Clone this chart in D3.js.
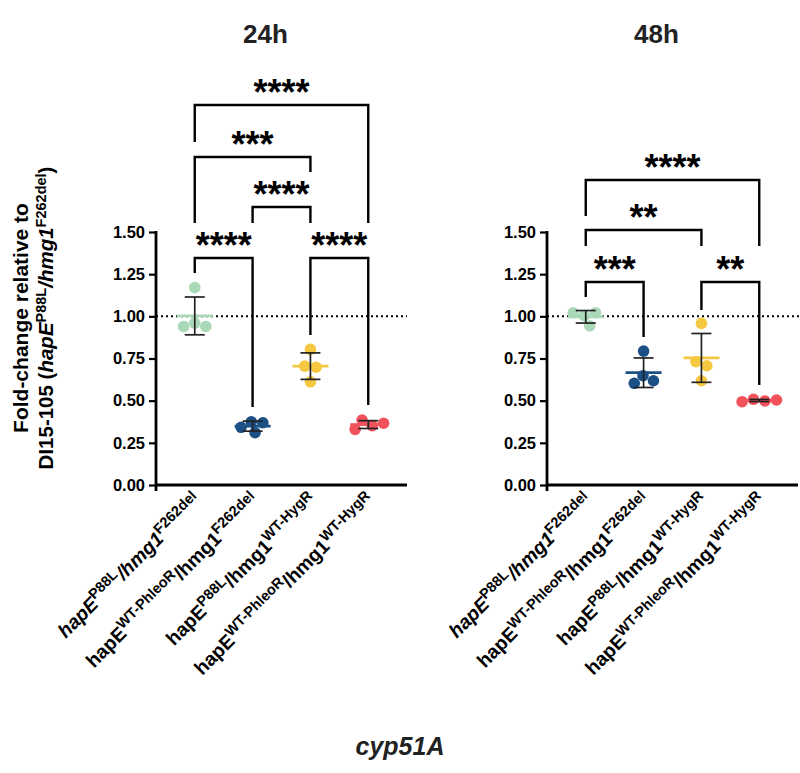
<!DOCTYPE html>
<html><head><meta charset="utf-8">
<script src="https://cdn.jsdelivr.net/npm/d3@7"></script>
<style>
body{margin:0;background:#fff;}
text{font-family:"Liberation Sans",Arial,Helvetica,sans-serif;}
</style>
</head><body>
<svg id="chart" width="800" height="773"></svg>
<script>
// ---------- data ----------
const panelTitles = ["24h", "48h"];
const groupKeys = ["g1", "g2", "g3", "g4"];
const groupColors = ["#a9d9b7", "#1b4f86", "#f6c842", "#f2525b"];
const values24h = [
  [1.17, 0.96, 0.94, 0.94],
  [0.375, 0.369, 0.342, 0.31],
  [0.804, 0.705, 0.698, 0.612],
  [0.33, 0.385, 0.352, 0.366]
];
const values48h = [
  [1.021, 1.021, 1.004, 0.943],
  [0.794, 0.648, 0.603, 0.618],
  [0.958, 0.731, 0.707, 0.618],
  [0.494, 0.508, 0.498, 0.504]
];
const yTickValues = [0, 0.25, 0.5, 0.75, 1.0, 1.25, 1.5];
const yTickLabels = ["0.00", "0.25", "0.50", "0.75", "1.00", "1.25", "1.50"];
const referenceLine = 1.0;
// comparisons: [groupA, groupB, label, bracketValue, legEndA, legEndB] (values in y units)
const comparisons24h = [
  [0, 1, "****", 1.346, 1.257, 0.462],
  [2, 3, "****", 1.346, 0.889, 0.474],
  [1, 2, "****", 1.648, 1.553, 1.553],
  [0, 2, "***", 1.945, 1.553, 1.856],
  [0, 3, "****", 2.253, 2.034, 1.553]
];
const comparisons48h = [
  [0, 1, "***", 1.204, 1.115, 0.877],
  [2, 3, "**", 1.204, 1.038, 0.593],
  [0, 2, "**", 1.512, 1.417, 1.417],
  [0, 3, "****", 1.808, 1.595, 1.417]
];
// x labels: segments [text, italic, superscript]
const xLabels24h = [
  [["hapE",1,0],["P88L",0,1],["/hmg1",1,0],["F262del",0,1]],
  [["hapE",0,0],["WT-PhleoR",0,1],["/hmg1",0,0],["F262del",0,1]],
  [["hapE",0,0],["P88L",0,1],["/hmg1",0,0],["WT-HygR",0,1]],
  [["hapE",0,0],["WT-PhleoR",0,1],["/hmg1",0,0],["WT-HygR",0,1]]
];
const xLabels48h = xLabels24h;
const yTitleLine1 = "Fold-change relative to";
const yTitleLine2 = [["DI15-105 (",0,0],["hapE",1,0],["P88L",0,1],["/hmg1",1,0],["F262del",0,1],[")",0,0]];
const geneTitle = "cyp51A";

// ---------- layout ----------
const svg = d3.select("#chart");
const plotTop = 232, plotBottom = 485, plotWidth = 251;
const panels = [
  {left: 156, title: panelTitles[0], values: values24h, comps: comparisons24h, labels: xLabels24h, lineEnd: 407},
  {left: 547, title: panelTitles[1], values: values48h, comps: comparisons48h, labels: xLabels48h, lineEnd: 800}
];
const y = d3.scaleLinear().domain([0, 1.5]).range([plotBottom, plotTop]);
const R = 5.8;

function addRich(textSel, segs, mainSize, supSize, supShift) {
  let raised = false;
  segs.forEach(([t, it, sup]) => {
    const ts = textSel.append("tspan").text(t)
      .attr("font-size", sup ? supSize : mainSize)
      .attr("font-style", it ? "italic" : "normal");
    if (sup && !raised) { ts.attr("dy", -supShift); raised = true; }
    else if (!sup && raised) { ts.attr("dy", supShift); raised = false; }
  });
}

panels.forEach(p => {
  const g = svg.append("g");
  const x = d3.scalePoint().domain(groupKeys).range([p.left, p.left + plotWidth]).padding(0.67);

  // title
  g.append("text").attr("x", p.left + plotWidth / 2 - 16).attr("y", 43)
    .attr("text-anchor", "middle").attr("font-size", 26).attr("font-weight", "bold")
    .attr("fill", "#222").text(p.title);

  // reference dotted line
  g.append("line").attr("x1", p.left).attr("x2", p.lineEnd)
    .attr("y1", y(referenceLine)).attr("y2", y(referenceLine))
    .attr("stroke", "#000").attr("stroke-width", 2).attr("stroke-dasharray", "2,3");

  // y axis
  const yAxis = d3.axisLeft(y).tickValues(yTickValues)
    .tickFormat((d, i) => yTickLabels[i]).tickSizeOuter(0).tickSize(7).tickPadding(4);
  const ya = g.append("g").attr("transform", `translate(${p.left},0)`).call(yAxis);
  ya.select(".domain").remove();
  ya.selectAll(".tick line").attr("stroke", "#000").attr("stroke-width", 2.2);
  ya.selectAll(".tick text").attr("font-size", 16.5).attr("font-weight", "bold")
    .attr("fill", "#000").attr("font-family", '"Liberation Sans",Arial,sans-serif');
  g.append("line").attr("x1", p.left).attr("x2", p.left).attr("y1", plotTop - 1).attr("y2", plotBottom + 6)
    .attr("stroke", "#000").attr("stroke-width", 2.8);
  // x axis
  g.append("line").attr("x1", p.left).attr("x2", p.left + plotWidth).attr("y1", plotBottom).attr("y2", plotBottom)
    .attr("stroke", "#000").attr("stroke-width", 2.8);

  // groups
  p.values.forEach((vals, gi) => {
    const cx = x(groupKeys[gi]);
    const mean = d3.mean(vals), sd = d3.deviation(vals);
    const col = groupColors[gi];
    // mean line
    g.append("line").attr("x1", cx - 18).attr("x2", cx + 18).attr("y1", y(mean)).attr("y2", y(mean))
      .attr("stroke", col).attr("stroke-width", 2.8);
    // dots (beeswarm)
    const nodes = vals.map((v, i) => ({v, fy: y(v), x: cx + (i - (vals.length - 1) / 2) * 0.7}));
    const sim = d3.forceSimulation(nodes)
      .force("x", d3.forceX(cx).strength(0.08))
      .force("c", d3.forceCollide(R))
      .stop();
    for (let k = 0; k < 300; k++) sim.tick();
    g.selectAll(null).data(nodes).join("circle")
      .attr("cx", d => d.x).attr("cy", d => d.fy).attr("r", R).attr("fill", col);
    // error bars
    const eb = g.append("g").attr("stroke", "#222").attr("stroke-width", 1.7);
    eb.append("line").attr("x1", cx).attr("x2", cx).attr("y1", y(mean + sd)).attr("y2", y(mean - sd));
    eb.append("line").attr("x1", cx - 10).attr("x2", cx + 10).attr("y1", y(mean + sd)).attr("y2", y(mean + sd));
    eb.append("line").attr("x1", cx - 10).attr("x2", cx + 10).attr("y1", y(mean - sd)).attr("y2", y(mean - sd));
    // x labels
    const t = g.append("text").attr("text-anchor", "end").attr("font-weight", "bold").attr("fill", "#000")
      .attr("transform", `translate(${cx + 8},${plotBottom + 17}) rotate(-45)`);
    addRich(t, p.labels[gi], 19.5, 14.5, 7.5);
  });

  // significance brackets
  p.comps.forEach(([a, b, lab, lv, ea, eb2]) => {
    const xa = x(groupKeys[a]), xb = x(groupKeys[b]);
    g.append("path")
      .attr("d", `M${xa},${y(ea)}V${y(lv)}H${xb}V${y(eb2)}`)
      .attr("fill", "none").attr("stroke", "#000").attr("stroke-width", 2.4);
    g.append("text").attr("x", (xa + xb) / 2).attr("y", y(lv))
      .attr("text-anchor", "middle").attr("font-size", 36).attr("font-weight", "bold")
      .attr("fill", "#000").text(lab);
  });
});

// y axis title
const yt = svg.append("g").attr("transform", "translate(0,318) rotate(-90)");
yt.append("text").attr("x", 0).attr("y", 28).attr("text-anchor", "middle")
  .attr("font-size", 21).attr("font-weight", "bold").text(yTitleLine1);
const yt2 = yt.append("text").attr("x", 0).attr("y", 53).attr("text-anchor", "middle").attr("font-weight", "bold");
addRich(yt2, yTitleLine2, 20.5, 14.5, 7);

// gene title
svg.append("text").attr("x", 400).attr("y", 755).attr("text-anchor", "middle")
  .attr("font-size", 25).attr("font-weight", "bold").attr("font-style", "italic")
  .attr("fill", "#222").text(geneTitle);
</script>
</body></html>
